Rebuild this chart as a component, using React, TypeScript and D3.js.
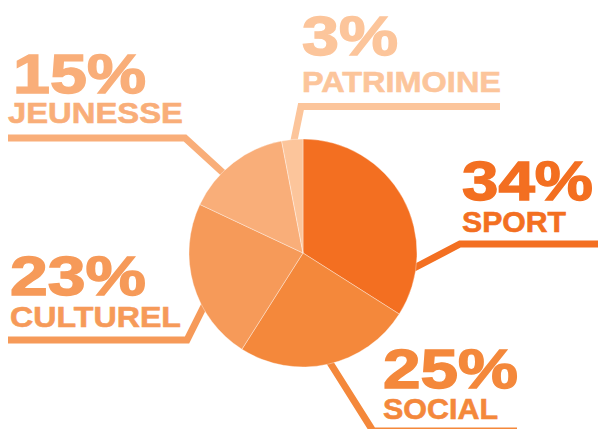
import React from "react";
import * as d3 from "d3";

const categories = ["SPORT", "SOCIAL", "CULTUREL", "JEUNESSE", "PATRIMOINE"];
const values = [34, 25, 23, 15, 3];
const colors = ["#F36F21", "#F4883B", "#F69A59", "#F9AE79", "#FCC59B"];

// label layout: [numX, numBaseline, numWidth, labX, labBaseline, labWidth]
const labelLayout = [
  [462, 200, 131, 462, 232, 104],
  [383, 388, 135, 383, 419, 115],
  [10, 295, 136, 10, 327, 171],
  [13, 93, 133, 8, 123, 175],
  [302, 55, 96, 302, 92, 199],
];
// leader polylines
const leaders: [number, number][][] = [
  [[395, 278], [460, 244], [605, 244]],
  [[322, 350], [373, 431], [517, 431]],
  [[213, 288], [187, 340], [8, 340]],
  [[232, 181], [185, 138], [8, 138]],
  [[291, 155], [301, 106.5], [500, 106.5]],
];

export default function App() {
  const W = 598, H = 429;
  const cx = 303, cy = 253, r = 114;
  const pie = d3.pie<number>().sort(null).value((d) => d).startAngle(0).endAngle(2 * Math.PI);
  const arcs = pie(values);
  const arc = d3.arc<d3.PieArcDatum<number>>().innerRadius(0).outerRadius(r);
  const line = d3.line();
  return (
    <svg width={W} height={H} style={{ position: "absolute", left: 0, top: 0 }}>
      <rect width={W} height={H} fill="#fff" />
      {leaders.map((pts, i) => (
        <path key={"l" + i} d={line(pts) || ""} fill="none" stroke={colors[i]} strokeWidth={7} strokeLinejoin="miter" />
      ))}
      <g transform={`translate(${cx},${cy})`}>
        {arcs.map((a, i) => (
          <path key={"a" + i} d={arc(a) || ""} fill={colors[i]} stroke="#ffffff" strokeOpacity={0.45} strokeWidth={0.8} />
        ))}
      </g>
      {categories.map((c, i) => {
        const [nx, ny, nw, lx, ly, lw] = labelLayout[i];
        return (
          <g key={"t" + i} fill={colors[i]} stroke={colors[i]} fontFamily="'Liberation Sans', Arial, sans-serif" fontWeight="bold">
            <text x={nx} y={ny} fontSize={55} strokeWidth={1.4} textLength={nw} lengthAdjust="spacingAndGlyphs">{values[i]}%</text>
            <text x={lx} y={ly} fontSize={29.5} strokeWidth={0.6} textLength={lw} lengthAdjust="spacingAndGlyphs">{c}</text>
          </g>
        );
      })}
    </svg>
  );
}
